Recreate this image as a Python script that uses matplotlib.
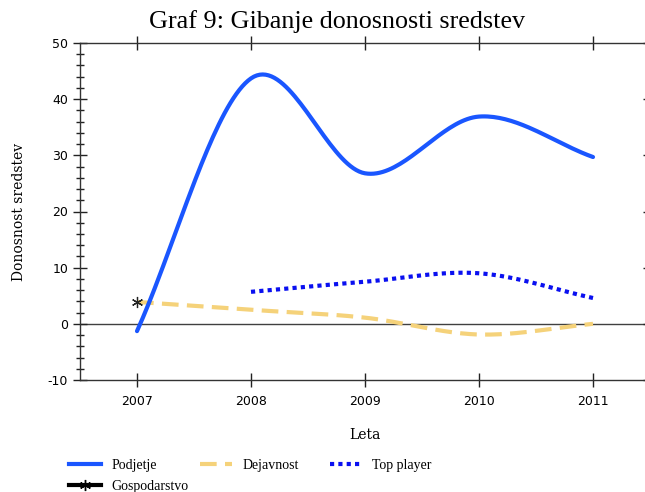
import matplotlib
matplotlib.use("Agg")
import matplotlib.pyplot as plt
import numpy as np
from matplotlib.lines import Line2D
from matplotlib.ticker import MultipleLocator

plt.rcParams["axes.unicode_minus"] = False

years = [2007, 2008, 2009, 2010, 2011]
podjetje = [-1.3, 43.7, 26.8, 36.9, 29.7]
dejavnost = [3.9, 2.5, 1.1, -1.9, 0.0]
top_years = [2008, 2009, 2010, 2011]
top_player = [5.7, 7.5, 9.0, 4.6]
gosp_years = [2007]
gospodarstvo = [3.8]

BLUE = "#1a56ff"
DARKBLUE = "#0a10f0"
YELLOW = "#f5d27a"
SERIF = ["Liberation Serif", "DejaVu Serif"]
SLAB = ["DejaVu Serif"]


def smooth(x, y, n=40):
    # Catmull-Rom style smoothing, like the spreadsheet "smoothed line" option
    x = np.asarray(x, float)
    y = np.asarray(y, float)
    m = np.zeros_like(y)
    m[1:-1] = (y[2:] - y[:-2]) / (x[2:] - x[:-2])
    m[0] = (y[1] - y[0]) / (x[1] - x[0])
    m[-1] = (y[-1] - y[-2]) / (x[-1] - x[-2])
    xs, ys = [], []
    for i in range(len(x) - 1):
        h = x[i + 1] - x[i]
        t = np.linspace(0, 1, n)
        h00 = 2 * t**3 - 3 * t**2 + 1
        h10 = t**3 - 2 * t**2 + t
        h01 = -2 * t**3 + 3 * t**2
        h11 = t**3 - t**2
        xs.append(x[i] + t * h)
        ys.append(h00 * y[i] + h10 * h * m[i] + h01 * y[i + 1] + h11 * h * m[i + 1])
    return np.concatenate(xs), np.concatenate(ys)


fig = plt.figure(figsize=(6.45, 4.92), dpi=100)
ax = fig.add_axes([80 / 645, 1 - 380 / 492, 570 / 645, 337 / 492])

ax.axhline(0, color="#404040", lw=1.0, zorder=1)

sx, sy = smooth(years, podjetje)
ax.plot(sx, sy, color=BLUE, lw=3, solid_capstyle="round", zorder=3)
sx, sy = smooth(years, dejavnost)
ax.plot(sx, sy, color=YELLOW, lw=3, dashes=(4, 2), zorder=2)
sx, sy = smooth(top_years, top_player)
ax.plot(sx, sy, color=DARKBLUE, lw=3, dashes=(1, 1), zorder=3)
ax.plot(gosp_years, gospodarstvo, ls="none", marker=(6, 2, 0), ms=8,
        mec="#222222", mew=0.9, zorder=4)

ax.set_xlim(2006.5, 2011.5)
ax.set_ylim(-10, 50)
ax.set_xticks(years)
ax.set_xticklabels([str(y) for y in years])
ax.yaxis.set_major_locator(MultipleLocator(10))
ax.yaxis.set_minor_locator(MultipleLocator(2))
ax.tick_params(axis="both", which="major", direction="inout", length=10,
               width=1, labelsize=9, top=True, right=True, color="#222222")
ax.tick_params(axis="y", which="minor", direction="inout", length=6,
               width=1, right=True, color="#222222")
for s in ax.spines.values():
    s.set_color("#333333")
    s.set_linewidth(1.0)
for lab in ax.get_xticklabels() + ax.get_yticklabels():
    lab.set_family(["DejaVu Sans"])
ax.tick_params(axis="x", pad=6)

ax.set_xlabel("Leta", family=SLAB, fontsize=10, labelpad=14)
ax.set_ylabel("Donosnost sredstev", family=SLAB, fontsize=10, labelpad=16)

fig.text(0.523, 1 - 22 / 492, "Graf 9: Gibanje donosnosti sredstev", family=SERIF,
         fontsize=18.8, ha="center", va="center")

# legend: three columns placed at the reference positions
entries = [
    (69, [Line2D([], [], color=BLUE, lw=3),
          Line2D([], [], color="black", lw=3, marker=(6, 2, 0), ms=8, mew=1)],
     ["Podjetje", "Gospodarstvo"]),
    (200, [Line2D([], [], color=YELLOW, lw=3, dashes=(4, 2))], ["Dejavnost"]),
    (330, [Line2D([], [], color=DARKBLUE, lw=3, dashes=(1, 1))], ["Top player"]),
]
for x0, hs, ls in entries:
    fig.legend(hs, ls, loc="upper left", bbox_to_anchor=(x0 / 645, 1 - 459 / 492),
               frameon=False, borderpad=0, borderaxespad=0,
               prop={"family": SERIF, "size": 10}, handlelength=2.3,
               labelspacing=0.55, handletextpad=0.75)

fig.savefig("out.png", dpi=100)
